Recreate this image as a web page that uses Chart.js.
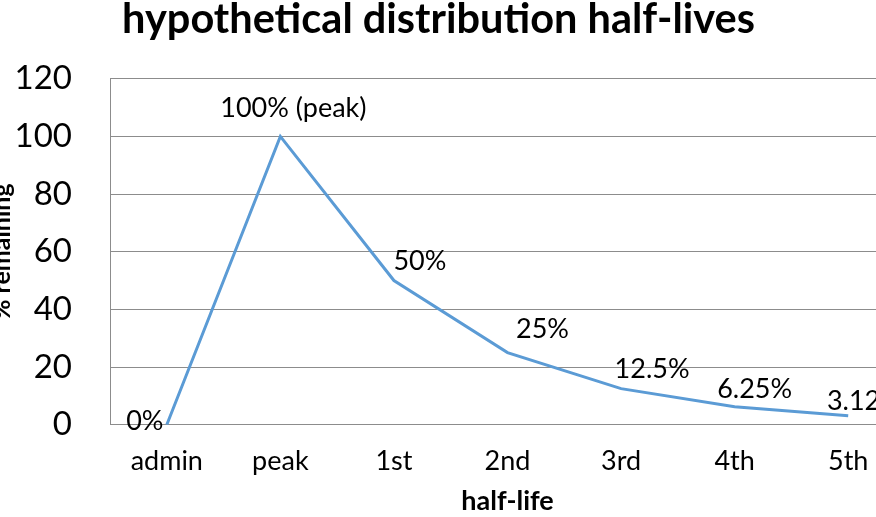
<!DOCTYPE html>
<html>
<head>
<meta charset="utf-8">
<script src="https://cdn.jsdelivr.net/npm/chart.js@4.4.1/dist/chart.umd.min.js"></script>
<style>
  html, body { margin: 0; padding: 0; width: 876px; height: 517px; overflow: hidden; background: #fff; }
  #wrap { position: absolute; left: -28px; top: -10px; width: 940px; height: 540px; }
</style>
</head>
<body>
<div id="wrap"><canvas id="chart"></canvas></div>
<script>
// categories and values
const halfLives = ['admin', 'peak', '1st', '2nd', '3rd', '4th', '5th'];
const remaining = [0, 100, 50, 25, 12.5, 6.25, 3.125];
const pointLabels = ['0%', '100% (peak)', '50%', '25%', '12.5%', '6.25%', '3.125%'];
const yTicks = [0, 20, 40, 60, 80, 100, 120];

const FONT = 'Lato, "Open Sans", sans-serif';
const GRID = '#8c8c8c';

// draws the text next to each point, shifted like in the original
const labelPlugin = {
    id: 'pointText',
    afterDatasetsDraw(chart, args, opts) {
        const ctx = chart.ctx;
        const meta = chart.getDatasetMeta(0);
        ctx.save();
        ctx.font = opts.size + 'px ' + FONT;
        ctx.fillStyle = '#000';
        ctx.textAlign = 'center';
        ctx.textBaseline = 'middle';
        meta.data.forEach((pt, i) => {
            const off = opts.offsets[i];
            ctx.fillText(pointLabels[i], pt.x + off[0], pt.y + off[1]);
        });
        ctx.restore();
    }
};

const ctx = document.getElementById('chart').getContext('2d');
const myChart = new Chart(ctx, {
    type: 'line',
    data: {
        labels: halfLives,
        datasets: [{
            label: '% remaining',
            data: remaining,
            borderColor: '#5b9bd5',
            backgroundColor: '#5b9bd5',
            borderWidth: 3,
            pointRadius: 0,
            tension: 0,
            fill: false
        }]
    },
    options: {
        responsive: true,
        maintainAspectRatio: false,
        animation: false,
        layout: { padding: { left: 0, right: 7, top: 0, bottom: 0 } },
        plugins: {
            legend: { display: false },
            tooltip: { enabled: false },
            title: {
                display: true,
                text: 'hypothetical distribution half-lives',
                color: '#000',
                font: { family: FONT, size: 41.5, weight: 'bold' },
                padding: { top: 5, bottom: 33.9 }
            },
            pointText: {
                size: 27,
                offsets: [[-22, -3], [13, -28], [26, -19], [35, -23], [31, -19], [20, -17], [24, -14]]
            }
        },
        scales: {
            x: {
                offset: true,
                grid: { display: false, drawTicks: false },
                border: { display: true, color: GRID, width: 1 },
                ticks: {
                    color: '#000',
                    padding: 20.7,
                    maxRotation: 0,
                    font: { family: FONT, size: 27 }
                },
                title: {
                    display: true,
                    text: 'half-life',
                    color: '#000',
                    font: { family: FONT, size: 27, weight: 'bold' },
                    padding: { top: 0, bottom: 12.2 }
                },
                afterFit(scale) { scale.height = 105.3; }
            },
            y: {
                min: 0,
                max: 120,
                afterBuildTicks(scale) { scale.ticks = yTicks.map(v => ({ value: v })); },
                grid: { color: GRID, lineWidth: 1, drawTicks: false },
                border: { display: true, color: GRID, width: 1 },
                ticks: {
                    color: '#000',
                    padding: 38,
                    font: { family: FONT, size: 33 }
                },
                title: {
                    display: true,
                    text: '% remaining',
                    color: '#000',
                    font: { family: FONT, size: 25, weight: 'bold' },
                    padding: { top: 15.3, bottom: 0 }
                },
                afterFit(scale) { scale.width = 138; }
            }
        }
    },
    plugins: [labelPlugin]
});
</script>
</body>
</html>
